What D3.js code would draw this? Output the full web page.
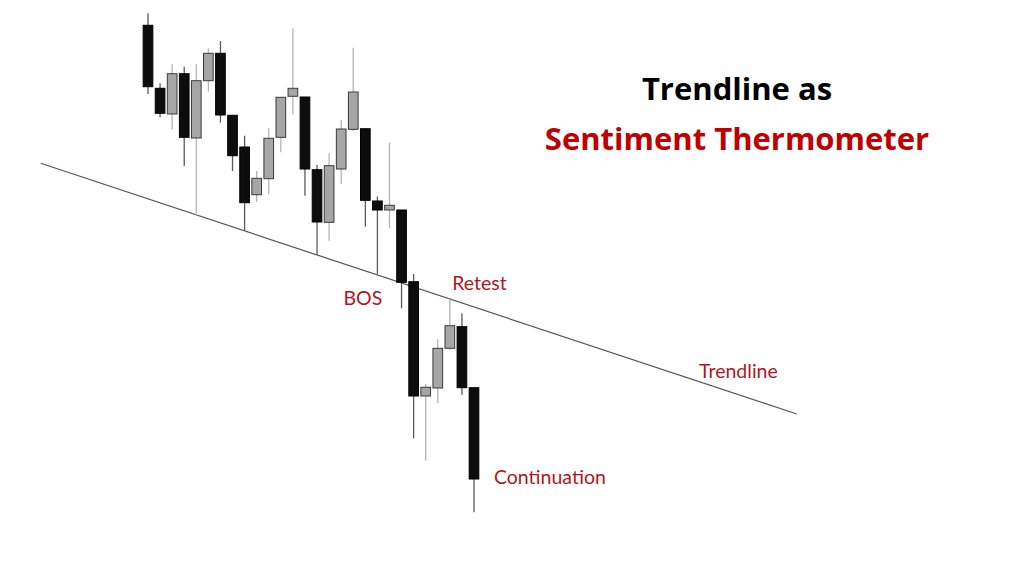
<!DOCTYPE html>
<html>
<head>
<meta charset="utf-8">
<script src="https://cdn.jsdelivr.net/npm/d3@7"></script>
<style>
  html, body { margin: 0; padding: 0; background: #ffffff; }
  svg { display: block; }
</style>
</head>
<body>
<svg id="chart" width="1024" height="576"></svg>
<script>
// ---- Data ----
const candleIndex = d3.range(28);
const opens  = [550.7, 487.7, 462.0, 502.3, 438.0, 495.3, 522.7, 460.7, 429.0, 381.3, 397.3, 438.7, 479.7, 479.0,
                406.3, 353.7, 407.0, 446.7, 447.3, 375.0, 366.0, 366.0, 294.3, 180.0, 188.0, 227.7, 249.3, 188.3];
const highs  = [562.7, 492.7, 511.7, 509.3, 511.7, 527.7, 535.0, 460.7, 440.3, 405.0, 447.7, 479.0, 547.7, 479.0,
                411.0, 422.7, 456.0, 528.3, 447.3, 379.3, 433.3, 366.0, 302.0, 192.0, 236.7, 276.0, 262.7, 188.3];
const lows   = [482.0, 458.7, 446.7, 410.0, 361.0, 484.3, 453.3, 405.0, 345.0, 374.3, 381.7, 423.7, 461.7, 380.3,
                321.0, 335.3, 392.0, 445.0, 349.3, 302.0, 347.7, 267.7, 137.7, 115.3, 172.7, 226.0, 181.0, 63.7];
const closes = [489.3, 462.7, 502.3, 438.7, 495.3, 522.7, 461.0, 420.3, 373.3, 397.7, 437.7, 478.7, 487.7, 407.0,
                354.0, 410.3, 447.0, 484.0, 375.7, 366.0, 370.7, 293.7, 180.0, 188.7, 227.7, 250.3, 188.3, 97.0];

// Trendline endpoints (candle index, price)
const trendIdx   = [-8.89, 53.73];
const trendPrice = [412.7, 162.0];

// Annotations
const labelText  = ["BOS", "Retest", "Trendline", "Continuation"];
const labelIdx   = [17.8, 27.45, 48.9, 28.65];
const labelPrice = [271.0, 286.0, 197.7, 91.7];
const labelAnchor = ["middle", "middle", "middle", "start"];

const titleLines = ["Trendline as", "Sentiment Thermometer"];

// ---- Scales ----
const x = d3.scaleLinear().domain([0, 27]).range([148, 474]);
const y = d3.scaleLinear().domain([0, 576]).range([576, 0]);
const step = x(1) - x(0);
const bodyW = step * 0.8;

const svg = d3.select("#chart");

// Trendline (behind candles)
svg.append("line")
  .attr("x1", x(trendIdx[0])).attr("y1", y(trendPrice[0]))
  .attr("x2", x(trendIdx[1])).attr("y2", y(trendPrice[1]))
  .attr("stroke", "#555").attr("stroke-width", 1.2);

const candles = candleIndex.map(i => ({
  i, o: opens[i], h: highs[i], l: lows[i], c: closes[i], up: closes[i] >= opens[i]
}));

const g = svg.append("g");
g.selectAll("line.wick").data(candles).join("line")
  .attr("class", "wick")
  .attr("x1", d => x(d.i)).attr("x2", d => x(d.i))
  .attr("y1", d => y(d.h)).attr("y2", d => y(d.l))
  .attr("stroke", d => d.up ? "#b4b4b4" : "#5a5a5a")
  .attr("stroke-width", 1.3);

g.selectAll("rect.body").data(candles).join("rect")
  .attr("class", "body")
  .attr("x", d => x(d.i) - bodyW / 2)
  .attr("width", bodyW)
  .attr("y", d => y(Math.max(d.o, d.c)))
  .attr("height", d => Math.max(1, Math.abs(y(d.o) - y(d.c))))
  .attr("fill", d => d.up ? "#a6a6a6" : "#0d0d0d")
  .attr("stroke", d => d.up ? "#3a3a3a" : "#000")
  .attr("stroke-width", 1);

// Labels
svg.selectAll("text.lbl").data(labelText).join("text")
  .attr("class", "lbl")
  .attr("x", (d, i) => x(labelIdx[i]))
  .attr("y", (d, i) => y(labelPrice[i]))
  .attr("text-anchor", (d, i) => labelAnchor[i])
  .attr("font-family", "Lato, 'Open Sans', sans-serif")
  .attr("font-size", 19.5)
  .attr("fill", "#b3151d")
  .text(d => d);

// Title
svg.append("text")
  .attr("x", 737).attr("y", 100)
  .attr("text-anchor", "middle")
  .attr("font-family", "'Open Sans', sans-serif")
  .attr("font-weight", "bold")
  .attr("font-size", 31)
  .attr("fill", "#000")
  .text(titleLines[0]);
svg.append("text")
  .attr("x", 737).attr("y", 150)
  .attr("text-anchor", "middle")
  .attr("font-family", "'Open Sans', sans-serif")
  .attr("font-weight", "bold")
  .attr("font-size", 31)
  .attr("fill", "#c00000")
  .text(titleLines[1]);
</script>
</body>
</html>
